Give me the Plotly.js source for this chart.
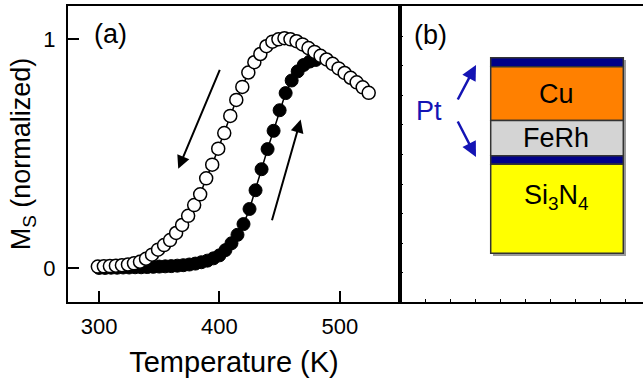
<!DOCTYPE html>
<html>
<head>
<meta charset="utf-8">
<script src="https://cdn.plot.ly/plotly-3.0.1.min.js"></script>
<style>html,body{margin:0;padding:0;background:#fff;}#chart{width:643px;height:381px;}</style>
</head>
<body>
<div id="chart"></div>
<script>
// Cooling branch (open circles)
const coolT = [299,304,309,314,319,324,329,334,339,344,349,354,359,364,369,374,379,384,389,394,399,404,409,414,419,424,429,434,439,444,449,454,459,464,469,474,479,484,489,494,499,504,509,514,519,524];
const coolM = [0.006,0.007,0.008,0.010,0.012,0.015,0.020,0.027,0.040,0.058,0.080,0.100,0.122,0.153,0.188,0.228,0.275,0.322,0.392,0.452,0.522,0.590,0.665,0.735,0.792,0.855,0.900,0.936,0.970,0.990,1.000,1.005,1.000,0.992,0.978,0.962,0.945,0.928,0.912,0.893,0.873,0.853,0.832,0.812,0.790,0.766];
// Heating branch (filled circles)
const heatT = [300,305,310,315,320,325,330,335,340,345,350,355,360,365,370,375,380,385,390,395,400,405,410,415,420,425,430,435,440,445,450,455,460,465,470,475,480];
const heatM = [0.000,0.000,0.001,0.001,0.002,0.002,0.003,0.003,0.004,0.005,0.006,0.007,0.008,0.010,0.012,0.015,0.019,0.025,0.032,0.042,0.055,0.078,0.108,0.145,0.192,0.258,0.340,0.432,0.520,0.600,0.690,0.765,0.820,0.860,0.888,0.903,0.910];
// Axis ticks
const xTickVals = [300,400,500];
const xTickText = ['300','400','500'];
const yTickVals = [0,1];
const yTickText = ['0','1'];
// Layer labels of the sample stack
const layerLabels = ['Cu','FeRh','Si<sub>3</sub>N<sub>4</sub>'];
const ptLabel = 'Pt';

const FONT = 'Liberation Sans, Arial, sans-serif';
const split = 332/575;

const traces = [
  {x: heatT, y: heatM, type: 'scatter', mode: 'lines+markers', xaxis: 'x', yaxis: 'y',
   line: {color: '#000', width: 1.5},
   marker: {symbol: 'circle', size: 13, color: '#000', line: {color: '#000', width: 1}},
   hoverinfo: 'skip', showlegend: false},
  {x: coolT, y: coolM, type: 'scatter', mode: 'lines+markers', xaxis: 'x', yaxis: 'y',
   line: {color: '#000', width: 1.5},
   marker: {symbol: 'circle', size: 13, color: '#fff', line: {color: '#000', width: 1.5}},
   hoverinfo: 'skip', showlegend: false}
];

function rect(x0, y0, x1, y1, fill, lw) {
  return {type: 'rect', xref: 'x2', yref: 'y2', x0: x0, x1: x1, y0: y0, y1: y1,
          fillcolor: fill, line: {color: '#333', width: lw === undefined ? 1.5 : lw}, layer: 'above'};
}

const shapes = [
  {type: 'rect', xref: 'x2', yref: 'y2', x0: 493, x1: 626, y0: 60, y1: 256, fillcolor: '#9a9a9a', line: {width: 0}, layer: 'above'},
  rect(490.7, 57.7, 623.3, 66.7, '#000088'),
  rect(490.7, 66.7, 623.3, 120.5, '#FF8000'),
  rect(490.7, 120.5, 623.3, 155.7, '#D4D4D4'),
  rect(490.7, 155.7, 623.3, 164.3, '#000088'),
  rect(490.7, 164.3, 623.3, 253.3, '#FFFF00')
];

const annotations = [
  {text: '(a)', xref: 'x', yref: 'y', x: 309.5, y: 1.022, showarrow: false, font: {family: FONT, size: 27, color: '#000'}},
  {text: '(b)', xref: 'x2', yref: 'y2', x: 430.5, y: 35, showarrow: false, font: {family: FONT, size: 27, color: '#000'}},
  {xref: 'x', yref: 'y', axref: 'x', ayref: 'y', x: 365.8, y: 0.434, ax: 400.8, ay: 0.873, text: '', showarrow: true,
   arrowhead: 2, arrowsize: 1.3, arrowwidth: 2, arrowcolor: '#000', standoff: 0, startstandoff: 0},
  {xref: 'x', yref: 'y', axref: 'x', ayref: 'y', x: 467.5, y: 0.649, ax: 443.3, ay: 0.202, text: '', showarrow: true,
   arrowhead: 2, arrowsize: 1.3, arrowwidth: 2, arrowcolor: '#000', standoff: 0, startstandoff: 0},
  {text: layerLabels[0], xref: 'x2', yref: 'y2', x: 556, y: 94, showarrow: false, font: {family: FONT, size: 27, color: '#000'}},
  {text: layerLabels[1], xref: 'x2', yref: 'y2', x: 556, y: 138, showarrow: false, font: {family: FONT, size: 27, color: '#000'}},
  {text: layerLabels[2], xref: 'x2', yref: 'y2', x: 556, y: 197, showarrow: false, font: {family: FONT, size: 27, color: '#000'}},
  {text: ptLabel, xref: 'x2', yref: 'y2', x: 429, y: 111, showarrow: false, font: {family: FONT, size: 27, color: '#1414B4'}},
  {xref: 'x2', yref: 'y2', axref: 'x2', ayref: 'y2', x: 476, y: 65, ax: 457, ay: 101, text: '', showarrow: true,
   arrowhead: 2, arrowsize: 1.2, arrowwidth: 2.5, arrowcolor: '#1414B4', standoff: 0, startstandoff: 0},
  {xref: 'x2', yref: 'y2', axref: 'x2', ayref: 'y2', x: 476, y: 157, ax: 457, ay: 120, text: '', showarrow: true,
   arrowhead: 2, arrowsize: 1.2, arrowwidth: 2.5, arrowcolor: '#1414B4', standoff: 0, startstandoff: 0}
];

const nb = '\u00a0';
const layout = {
  width: 643, height: 381,
  margin: {l: 68, r: 0, t: 6, b: 79, pad: 0},
  paper_bgcolor: '#fff', plot_bgcolor: '#fff',
  font: {family: FONT, color: '#000'},
  showlegend: false,
  xaxis: {
    domain: [0, split], range: [274.2, 550], showgrid: false, zeroline: false,
    showline: true, linecolor: '#000', linewidth: 2, mirror: true,
    ticks: 'inside', ticklen: 11, tickwidth: 2, tickcolor: '#000',
    tickvals: xTickVals, ticktext: xTickText, tickfont: {family: FONT, size: 22},
    ticklabelstandoff: 4,
    title: {text: 'Temperature (K)', font: {family: FONT, size: 29}, standoff: 13},
    fixedrange: true
  },
  yaxis: {
    domain: [0, 1], range: [-0.149, 1.146], showgrid: false, zeroline: false,
    showline: true, linecolor: '#000', linewidth: 2, mirror: true,
    ticks: 'inside', ticklen: 11, tickwidth: 2, tickcolor: '#000',
    tickvals: yTickVals, ticktext: yTickText, tickfont: {family: FONT, size: 22},
    ticklabelstandoff: 6,
    title: {text: nb.repeat(11) + 'M<sub>S</sub> (normalized)', font: {family: FONT, size: 27}, standoff: 5},
    fixedrange: true
  },
  xaxis2: {
    domain: [split, 1], range: [400, 643], anchor: 'y2', showgrid: false, zeroline: false,
    showline: true, linecolor: '#000', linewidth: 2, mirror: true,
    ticks: 'inside', ticklen: 3, tickwidth: 1, tickcolor: '#000',
    tick0: 400, dtick: 25, showticklabels: false, fixedrange: true
  },
  yaxis2: {
    domain: [0, 1], range: [302, 6], anchor: 'x2', showgrid: false, zeroline: false,
    showline: true, linecolor: '#000', linewidth: 2, mirror: false,
    ticks: 'inside', ticklen: 3, tickwidth: 1, tickcolor: '#000',
    tick0: 6.4, dtick: 29.6, showticklabels: false, fixedrange: true
  },
  shapes: shapes,
  annotations: annotations
};

Plotly.newPlot('chart', traces, layout, {displayModeBar: false, staticPlot: true});
</script>
</body>
</html>
